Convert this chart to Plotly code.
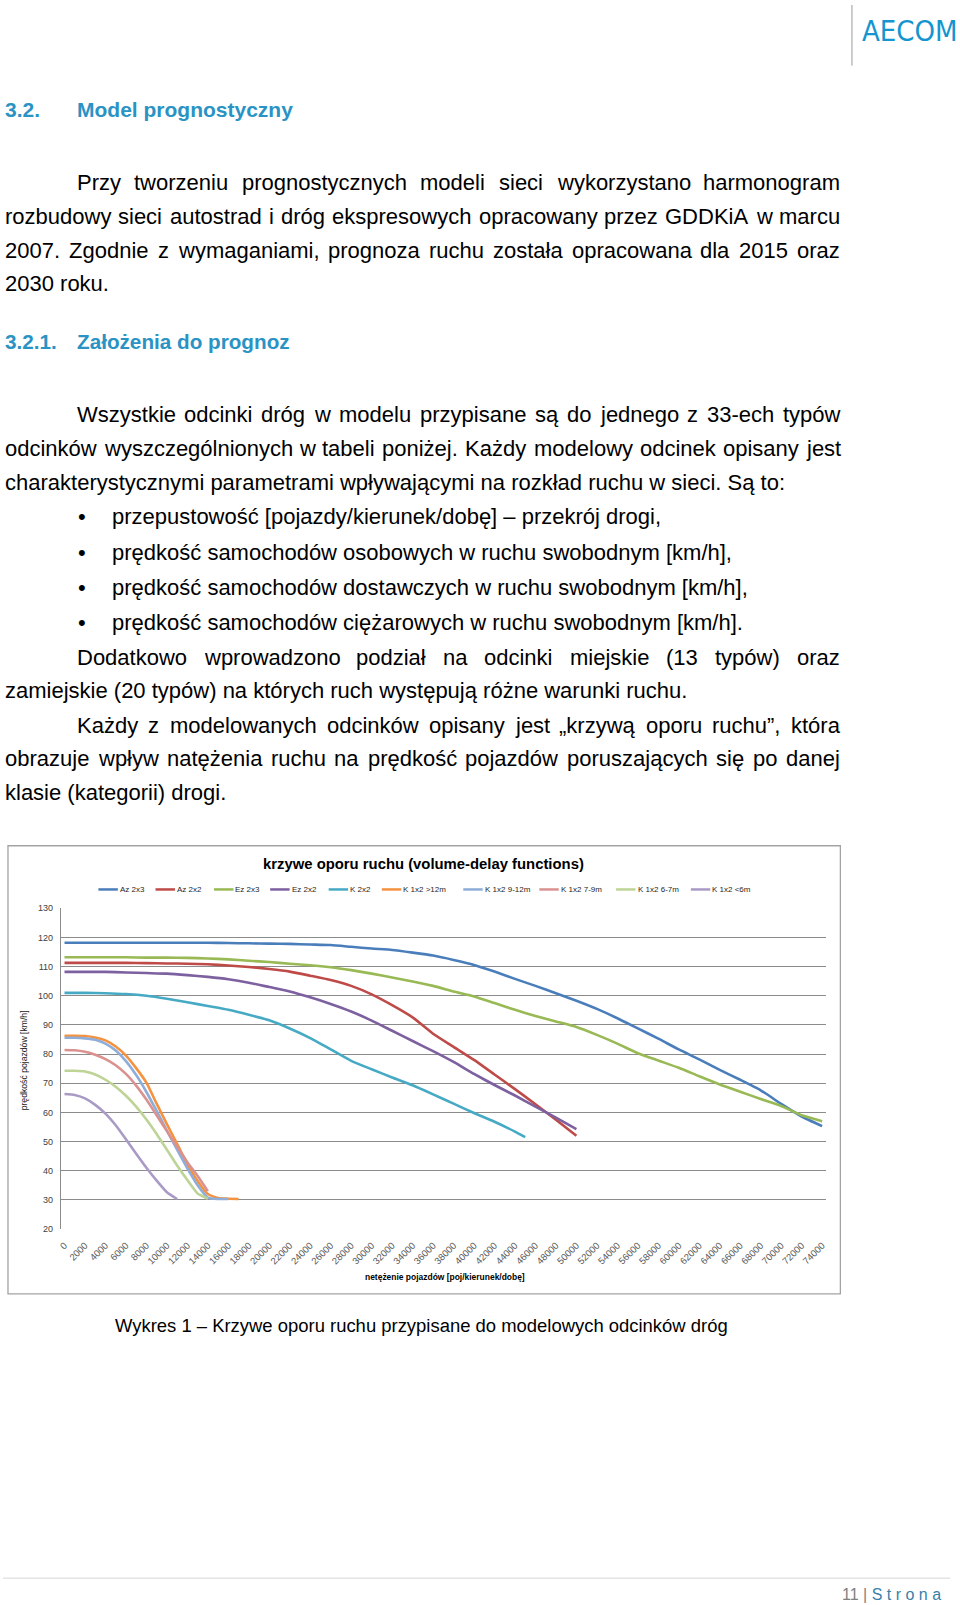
import plotly.graph_objects as go

W, H = 960, 1605

# ------------------------------------------------------------------ data
series_names = ["Az 2x3", "Az 2x2", "Ez 2x3", "Ez 2x2", "K 2x2",
                "K 1x2 >12m", "K 1x2 9-12m", "K 1x2 7-9m", "K 1x2 6-7m", "K 1x2 <6m"]
series_colors = ["#4A7EBB", "#BE4B48", "#98B954", "#7D60A0", "#46AAC5",
                 "#F59240", "#8EADD8", "#D9928F", "#BDD496", "#A99BC6"]

x_long = [0, 2000, 4000, 6000, 8000, 10000, 12000, 14000, 16000, 18000, 20000,
          22000, 24000, 26000, 28000, 30000, 32000, 34000, 36000, 38000, 40000,
          42000, 44000, 46000, 48000, 50000, 52000, 54000, 56000, 58000, 60000,
          62000, 64000, 66000, 68000, 70000, 72000, 74000]
y_az2x3 = [118.2, 118.2, 118.2, 118.2, 118.2, 118.2, 118.2, 118.2, 118.1, 118.0, 117.9,
           117.8, 117.6, 117.4, 116.8, 116.2, 115.7, 114.8, 113.8, 112.3, 110.6,
           108.3, 105.8, 103.4, 100.9, 98.3, 95.5, 92.3, 88.8, 85.3, 81.6,
           78.2, 74.6, 71.2, 67.6, 62.9, 58.6, 55.3]
y_ez2x3 = [113.2, 113.2, 113.2, 113.2, 113.1, 113.1, 113.0, 112.8, 112.5, 112.0, 111.6,
           111.0, 110.5, 109.8, 108.8, 107.6, 106.3, 104.9, 103.4, 101.5, 99.8,
           97.5, 95.2, 93.1, 91.2, 89.3, 86.6, 83.6, 80.3, 77.8, 75.3,
           72.4, 69.6, 67.1, 64.6, 62.2, 59.0, 57.0]

x_mid = [0, 2000, 4000, 6000, 8000, 10000, 12000, 14000, 16000, 18000, 20000,
         22000, 24000, 26000, 28000, 30000, 32000, 34000, 36000, 38000, 40000,
         42000, 44000, 46000, 48000, 50000]
y_az2x2 = [111.3, 111.3, 111.3, 111.3, 111.2, 111.1, 111.0, 110.8, 110.4, 109.9, 109.2,
           108.3, 106.9, 105.4, 103.4, 100.5, 96.8, 92.6, 87.0, 82.5, 78.0,
           73.0, 68.0, 62.8, 57.5, 52.0]
y_ez2x2 = [108.2, 108.2, 108.2, 108.0, 107.8, 107.6, 107.1, 106.5, 105.7, 104.5, 103.0,
           101.5, 99.5, 97.2, 94.6, 91.5, 88.0, 84.5, 81.0, 77.3, 73.2,
           69.4, 65.8, 62.0, 58.2, 54.3]

x_k2x2 = [0, 2000, 4000, 6000, 8000, 10000, 12000, 14000, 16000, 18000, 20000,
          22000, 24000, 26000, 28000, 30000, 32000, 34000, 36000, 38000, 40000,
          42000, 44000, 45000]
y_k2x2 = [101.0, 101.0, 100.9, 100.6, 100.0, 99.0, 97.8, 96.5, 95.2, 93.5, 91.6,
          88.8, 85.5, 81.6, 77.7, 74.8, 72.0, 69.3, 66.2, 63.0, 59.8,
          56.8, 53.4, 51.5]

x_k12 = [0, 1000, 2000, 3000, 4000, 5000, 6000, 7000, 8000, 9000, 10000,
         11000, 12000, 13000, 14000, 15000, 16000, 17000]
y_k12 = [86.3, 86.3, 86.2, 85.7, 84.7, 82.6, 79.5, 75.2, 70.2, 63.0, 56.0,
         49.2, 42.3, 36.5, 32.0, 30.6, 30.4, 30.3]

x_k9 = [0, 1000, 2000, 3000, 4000, 5000, 6000, 7000, 8000, 9000, 10000,
        11000, 12000, 13000, 14000, 15000, 16000]
y_k9 = [85.6, 85.6, 85.4, 84.9, 83.6, 81.2, 77.6, 72.8, 67.0, 60.5, 53.8,
        47.2, 40.8, 35.0, 30.8, 30.3, 30.3]

x_k7 = [0, 1000, 2000, 3000, 4000, 5000, 6000, 7000, 8000, 9000, 10000,
        11000, 12000, 13000, 14000]
y_k7 = [81.4, 81.3, 80.8, 79.8, 78.3, 76.2, 73.2, 69.2, 64.4, 59.0, 53.6,
        48.2, 42.9, 38.2, 33.0]

x_k6 = [0, 1000, 2000, 3000, 4000, 5000, 6000, 7000, 8000, 9000, 10000,
        11000, 12000, 13000, 14000]
y_k6 = [74.3, 74.3, 74.0, 73.0, 71.2, 68.8, 65.7, 62.0, 57.6, 52.6, 47.2,
        41.8, 36.8, 32.2, 30.4]

x_k5 = [0, 1000, 2000, 3000, 4000, 5000, 6000, 7000, 8000, 9000, 10000, 11000]
y_k5 = [66.3, 66.0, 64.8, 62.6, 59.6, 55.6, 50.8, 45.8, 41.0, 36.6, 32.6, 30.3]

series_x = [x_long, x_mid, x_long, x_mid, x_k2x2, x_k12, x_k9, x_k7, x_k6, x_k5]
series_y = [y_az2x3, y_az2x2, y_ez2x3, y_ez2x2, y_k2x2, y_k12, y_k9, y_k7, y_k6, y_k5]

x_ticks = [0, 2000, 4000, 6000, 8000, 10000, 12000, 14000, 16000, 18000, 20000,
           22000, 24000, 26000, 28000, 30000, 32000, 34000, 36000, 38000, 40000,
           42000, 44000, 46000, 48000, 50000, 52000, 54000, 56000, 58000, 60000,
           62000, 64000, 66000, 68000, 70000, 72000, 74000]
x_tick_labels = [str(v) for v in x_ticks]
y_ticks = [20, 30, 40, 50, 60, 70, 80, 90, 100, 110, 120, 130]
y_tick_labels = ["20", "30", "40", "50", "60", "70", "80", "90", "100", "110", "120", "130"]

chart_title = "krzywe oporu ruchu (volume-delay functions)"
x_title = "netężenie pojazdów [poj/kierunek/dobę]"
y_title = "prędkość pojazdów [km/h]"
caption = "Wykres 1 – Krzywe oporu ruchu przypisane do modelowych odcinków dróg"

# ------------------------------------------------------------------ text metrics (Arial / Liberation Sans)
REG = dict(zip("abcdefghijklmnopqrstuvwxyz",
               [556, 556, 500, 556, 556, 278, 556, 556, 222, 222, 500, 222, 833,
                556, 556, 556, 556, 333, 500, 278, 556, 500, 722, 500, 500, 500]))
REG.update(dict(zip("ABCDEFGHIJKLMNOPQRSTUVWXYZ",
                    [667, 667, 722, 722, 667, 611, 778, 722, 278, 500, 667, 556, 833,
                     722, 778, 667, 778, 722, 667, 611, 722, 667, 944, 667, 667, 611])))
REG.update({c: 556 for c in "0123456789"})
REG.update({" ": 278, ".": 278, ",": 278, ":": 278, ";": 278, "(": 333, ")": 333,
            "[": 278, "]": 278, "/": 278, "-": 333, "–": 556, "„": 333, "”": 333,
            "<": 584, ">": 584, "ą": 556, "ć": 500, "ę": 556, "ł": 222, "ń": 556,
            "ó": 556, "ś": 500, "ź": 500, "ż": 500, "Ł": 556, "Ś": 667, "Ż": 611})
BOLD = dict(zip("abcdefghijklmnopqrstuvwxyz",
                [556, 611, 556, 611, 556, 333, 611, 611, 278, 278, 556, 278, 889,
                 611, 611, 611, 611, 389, 556, 333, 611, 556, 778, 556, 556, 500]))
BOLD.update(dict(zip("ABCDEFGHIJKLMNOPQRSTUVWXYZ",
                     [722, 722, 722, 722, 667, 611, 778, 722, 278, 556, 722, 611, 833,
                      722, 778, 667, 778, 722, 667, 611, 722, 667, 944, 667, 667, 611])))
BOLD.update({c: 556 for c in "0123456789"})
BOLD.update({" ": 278, ".": 278, "(": 333, ")": 333, "[": 333, "]": 333, "/": 278,
             "-": 333, "ł": 278, "ż": 500, "ę": 556, "ó": 611})


def tw(s, size, bold=False):
    tbl = BOLD if bold else REG
    return sum(tbl.get(c, 556) for c in s) * size / 1000.0


BODY = "Liberation Sans, Arial, sans-serif"
XSHIFT = -4
annotations = []
shapes = []


def esc(s):
    return s.replace("&", "&amp;").replace("<", "&lt;").replace(">", "&gt;")


def text(s, px, py, size, color="#000000", family=BODY, xanchor="left",
         bold=False, angle=0, raw=False):
    t = s if raw else esc(s)
    if bold:
        t = "<b>" + t + "</b>"
    annotations.append(dict(text=t, x=px / W, y=1 - py / H, xref="paper", yref="paper",
                            xanchor=xanchor, yanchor="middle", showarrow=False,
                            borderpad=0, textangle=angle,
                            xshift=XSHIFT if xanchor == "left" else 0,
                            font=dict(size=size, color=color, family=family)))


def justify(line, x0, x1, py, size):
    words = line.split(" ")
    ws = [tw(w, size) for w in words]
    gap = (x1 - x0 - sum(ws)) / (len(words) - 1)
    x = x0
    for w, wd in zip(words, ws):
        text(w, x, py, size)
        x += wd + gap


def hline(x0, x1, py, color, width):
    shapes.append(dict(type="line", xref="paper", yref="paper", x0=x0 / W, x1=x1 / W,
                       y0=1 - py / H, y1=1 - py / H, line=dict(color=color, width=width)))


# ------------------------------------------------------------------ page header
shapes.append(dict(type="line", xref="paper", yref="paper", x0=851.6 / W, x1=851.6 / W,
                   y0=1, y1=1 - 61 / H, line=dict(color="#9a9a9a", width=1)))
text("AECOM", 959, 26, 29, color="#1595CF", xanchor="right",
     family="DejaVu Sans Condensed, Liberation Sans Narrow, Liberation Sans, sans-serif")

HEAD = "#2A93C4"
text("3.2.", 5, 105.4, 21, color=HEAD, bold=True)
text("Model prognostyczny", 77, 105.4, 21, color=HEAD, bold=True)

FS = 22
RIGHT = 842.5
justify("Przy tworzeniu prognostycznych modeli sieci wykorzystano harmonogram", 76.8, RIGHT, 178.3, FS)
justify("rozbudowy sieci autostrad i dróg ekspresowych opracowany przez GDDKiA w marcu", 5, RIGHT, 212.9, FS)
justify("2007. Zgodnie z wymaganiami, prognoza ruchu została opracowana dla 2015 oraz", 5, RIGHT, 246.6, FS)
text("2030 roku.", 5, 280.4, FS)

text("3.2.1.", 5, 338.8, 20.7, color=HEAD, bold=True)
text("Założenia do prognoz", 76.8, 338.8, 20.7, color=HEAD, bold=True)

justify("Wszystkie odcinki dróg w modelu przypisane są do jednego z 33-ech typów", 76.8, RIGHT, 412.5, FS)
justify("odcinków wyszczególnionych w tabeli poniżej. Każdy modelowy odcinek opisany jest", 5, RIGHT, 446.3, FS)
text("charakterystycznymi parametrami wpływającymi na rozkład ruchu w sieci. Są to:", 5, 480.0, FS)

bullets = ["przepustowość [pojazdy/kierunek/dobę] – przekrój drogi,",
           "prędkość samochodów osobowych w ruchu swobodnym [km/h],",
           "prędkość samochodów dostawczych w ruchu swobodnym [km/h],",
           "prędkość samochodów ciężarowych w ruchu swobodnym [km/h]."]
for b, yy in zip(bullets, [514.9, 551.2, 586.2, 621.3]):
    text("•", 78, yy, FS)
    text(b, 112.6, yy, FS)

justify("Dodatkowo wprowadzono podział na odcinki miejskie (13 typów) oraz", 76.8, RIGHT, 657.0, FS)
text("zamiejskie (20 typów) na których ruch występują różne warunki ruchu.", 5, 690.0, FS)
justify("Każdy z modelowanych odcinków opisany jest „krzywą oporu ruchu”, która", 76.8, RIGHT, 724.6, FS)
justify("obrazuje wpływ natężenia ruchu na prędkość pojazdów poruszających się po danej", 5, RIGHT, 758.4, FS)
text("klasie (kategorii) drogi.", 5, 792.2, FS)

# ------------------------------------------------------------------ chart frame & labels
shapes.append(dict(type="rect", xref="paper", yref="paper", x0=5 / W, x1=840 / W,
                   y0=1 - 1297 / H, y1=1 - 846 / H, line=dict(color="#a3a3a3", width=1.3),
                   fillcolor="rgba(0,0,0,0)", layer="below"))
title_size = 321 / tw(chart_title, 1, bold=True)
text(chart_title, 422, 864.5, title_size, bold=True, xanchor="center")
xt_size = 160 / tw(x_title, 1, bold=True)
text(x_title, 443, 1280, xt_size, bold=True, xanchor="center")
yt_size = 100 / tw(y_title, 1)
text(y_title, 21, 1062, yt_size, angle=-90, xanchor="center", color="#222222")

# legend (drawn manually to match the Excel layout)
legend_x = [95.7, 153, 211.7, 268, 326.7, 380, 461.7, 538, 615, 690]
for name, col, lx in zip(series_names, series_colors, legend_x):
    hline(lx, lx + 19.5, 890, col, 2.5)
    text(name, lx + 24.5, 890, 8, color="#262626")

cap_size = 613 / tw(caption, 1)
text(caption, 115.7, 1328.5, cap_size)

# footer
hline(0, 950, 1583, "#d6d6d6", 1)
foot = "11 | S t r o n a"
fsz = 105 / tw(foot, 1)
text("<span style='color:#808080'>11 |</span> <span style='color:#3A7FA8'>S t r o n a</span>",
     942, 1599.5, fsz, xanchor="right", raw=True)

# ------------------------------------------------------------------ figure
fig = go.Figure()
for name, col, xs, ys in zip(series_names, series_colors, series_x, series_y):
    fig.add_trace(go.Scatter(x=xs, y=ys, name=name, mode="lines",
                             line=dict(color=col, width=2.6, shape="spline", smoothing=0.5),
                             showlegend=False, hoverinfo="skip"))

px_per_unit = (1231.7 - 909.0) / 110.0
y_top_px = 909.0 - 0.1 * px_per_unit
y_bot_px = 1231.7 + 0.1 * px_per_unit

fig.update_layout(
    width=W, height=H, autosize=False,
    margin=dict(l=0, r=0, t=0, b=0, pad=0),
    paper_bgcolor="white", plot_bgcolor="white",
    showlegend=False,
    annotations=annotations, shapes=shapes,
    xaxis=dict(domain=[58 / W, 826 / W], range=[-360, 74420],
               tickmode="array", tickvals=x_ticks, ticktext=x_tick_labels,
               tickangle=-45, tickfont=dict(size=9.5, color="#595959", family=BODY),
               showgrid=False, zeroline=False, showline=False,
               ticks="outside", ticklen=6, tickcolor="rgba(0,0,0,0)"),
    yaxis=dict(domain=[1 - y_bot_px / H, 1 - y_top_px / H], range=[19.9, 130.1],
               tickmode="array", tickvals=y_ticks, ticktext=y_tick_labels,
               tickfont=dict(size=9, color="#404040", family=BODY),
               showgrid=True, gridcolor="#8c8c8c", gridwidth=1,
               zeroline=False, showline=True, linecolor="#8c8c8c", linewidth=1,
               ticks="outside", ticklen=5, tickcolor="rgba(0,0,0,0)"),
)

fig.write_html("out.html", config={"displayModeBar": False},
               post_script="document.body.style.margin='0';")
